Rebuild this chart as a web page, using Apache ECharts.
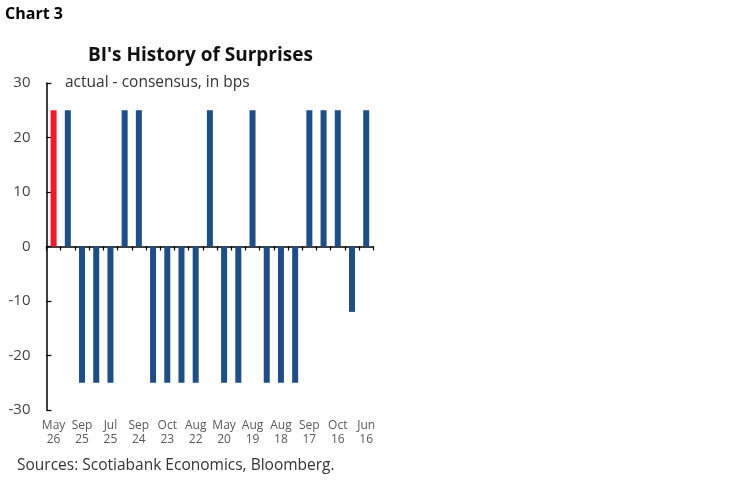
<!DOCTYPE html>
<html>
<head>
<meta charset="utf-8">
<script src="https://cdn.jsdelivr.net/npm/echarts@6/dist/echarts.min.js"></script>
<style>
html,body{margin:0;padding:0;background:#fff;}
#chart{width:748px;height:483px;}
</style>
</head>
<body>
<div id="chart"></div>
<script>
// Category labels (only every other bar is labelled in the source)
var categories = ["May\n26","","Sep\n25","","Jul\n25","","Sep\n24","","Oct\n23","","Aug\n22","","May\n20","","Aug\n19","","Aug\n18","","Sep\n17","","Oct\n16","","Jun\n16"];
// actual - consensus, in bps
var surprises = [25,25,-25,-25,-25,25,25,-25,-25,-25,-25,25,-25,-25,25,-25,-25,-25,25,25,25,-12,25];
var highlightIndex = 0;
var yTicks = [-30,-20,-10,0,10,20,30];

var FONT = "Open Sans";
var chart = echarts.init(document.getElementById('chart'), null, {renderer:'canvas'});

var barData = surprises.map(function(v,i){
  return {value:v, itemStyle:{color: i===highlightIndex ? '#EC1C2E' : '#1F4E86'}};
});

chart.setOption({
  animation:false,
  backgroundColor:'#fff',
  textStyle:{fontFamily:FONT},
  title:[
    {text:'Chart 3', left:5, top:6, padding:0, textStyle:{fontFamily:FONT,fontWeight:'bold',fontSize:16,color:'#000'}},
    {text:"BI's History of Surprises", left:88, top:46, padding:0, textStyle:{fontFamily:FONT,fontWeight:'bold',fontSize:19,color:'#111'}},
    {text:'actual - consensus, in bps', left:65, top:75, padding:0, textStyle:{fontFamily:FONT,fontWeight:'normal',fontSize:15.5,color:'#333'}},
    {text:'Sources: Scotiabank Economics, Bloomberg.', left:17, top:458, padding:0, textStyle:{fontFamily:FONT,fontWeight:'normal',fontSize:15.5,color:'#333'}}
  ],
  grid:{left:46.5, top:83, right:374.7, bottom:73, containLabel:false},
  xAxis:[
    {
      type:'category', data:categories, position:'top',
      axisLine:{show:true, onZero:true, lineStyle:{color:'#000', width:1.5}},
      axisTick:{show:true, inside:true, interval:0, length:4, lineStyle:{color:'#000', width:1.2}},
      axisLabel:{show:false},
      splitLine:{show:false}
    },
    {
      type:'category', data:categories, position:'bottom',
      axisLine:{show:false, onZero:false},
      axisTick:{show:false},
      axisLabel:{show:true, interval:0, margin:9, fontFamily:FONT, fontSize:12, lineHeight:14, color:'#595959'},
      splitLine:{show:false}
    }
  ],
  yAxis:{
    type:'value', min:yTicks[0], max:yTicks[yTicks.length-1], interval:10,
    axisLine:{show:true, lineStyle:{color:'#000', width:1.5}},
    axisTick:{show:true, inside:true, length:5, lineStyle:{color:'#000', width:1.2}},
    axisLabel:{fontFamily:FONT, fontSize:15, color:'#444', margin:16},
    splitLine:{show:false}
  },
  series:[{
    type:'bar', xAxisIndex:0, data:barData, barWidth:6
  }]
});
</script>
</body>
</html>
